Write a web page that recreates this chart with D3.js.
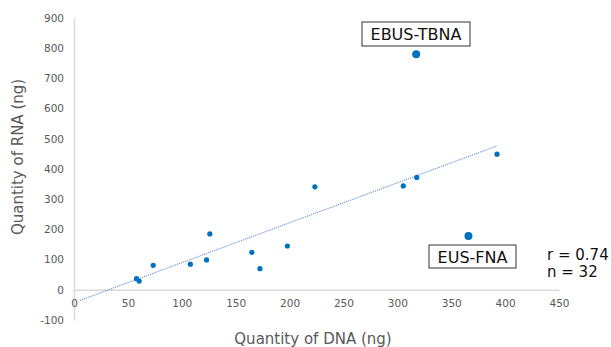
<!DOCTYPE html>
<html>
<head>
<meta charset="utf-8">
<script src="https://cdn.jsdelivr.net/npm/d3@7"></script>
<style>
  body { margin: 0; background: #fff; }
  svg { display: block; }
  .tick text { fill: #595959; font-family: "DejaVu Sans", sans-serif; font-size: 10.5px; }
</style>
</head>
<body>
<svg id="chart"></svg>
<script>
let w = 611;
let h = 347;

// values
let dnaValues = [58, 60.5, 73.5, 108, 126, 123, 165, 172.5, 198, 223.5, 305.5, 318, 392.5];
let rnaValues = [37, 29, 81, 85, 185, 99, 124, 70, 145, 341, 344, 372, 449];
let highlightNames = ["EBUS-TBNA", "EUS-FNA"];
let highlightDna = [317.5, 366];
let highlightRna = [780, 178];
let xTicks = [0, 50, 100, 150, 200, 250, 300, 350, 400, 450];
let yTicks = [-100, 0, 100, 200, 300, 400, 500, 600, 700, 800, 900];
let trendSlope = 1.322;
let trendIntercept = -42.4;
let trendRange = [5.5, 392.5];
let statLines = ["r = 0.74", "n = 32"];

let svg = d3.select("#chart").attr("width", w).attr("height", h);

let xScale = d3.scaleLinear().domain([0, 450]).range([74, 559]);
let yScale = d3.scaleLinear().domain([-100, 900]).range([320, 18]);

let xAxis = d3.axisBottom(xScale).tickValues(xTicks).tickFormat(d => String(d))
  .tickSize(0).tickSizeOuter(0).tickPadding(10);
let yAxis = d3.axisLeft(yScale).tickValues(yTicks).tickFormat(d => String(d))
  .tickSize(0).tickSizeOuter(0).tickPadding(10);

svg.append("g")
  .attr("transform", "translate(" + xScale(0) + ",0)")
  .call(yAxis)
  .call(g => g.select(".domain").attr("stroke", "#d9d9d9").attr("stroke-width", 1.5));

svg.append("g")
  .attr("transform", "translate(0," + yScale(0) + ")")
  .call(xAxis)
  .call(g => g.select(".domain").attr("stroke", "#d9d9d9").attr("stroke-width", 1.5));

// trend line
svg.append("line")
  .attr("x1", xScale(trendRange[0]))
  .attr("y1", yScale(trendSlope * trendRange[0] + trendIntercept))
  .attr("x2", xScale(trendRange[1]))
  .attr("y2", yScale(trendSlope * trendRange[1] + trendIntercept))
  .attr("stroke", "#4a86d4")
  .attr("stroke-width", 1)
  .attr("stroke-dasharray", "1.2,1");

svg.selectAll("circle.pt")
  .data(dnaValues)
  .enter()
  .append("circle")
  .attr("class", "pt")
  .attr("cx", d => xScale(d))
  .attr("cy", (d, i) => yScale(rnaValues[i]))
  .attr("r", 2.6)
  .attr("fill", "#0070c0");

svg.selectAll("circle.big")
  .data(highlightDna)
  .enter()
  .append("circle")
  .attr("class", "big")
  .attr("cx", d => xScale(d))
  .attr("cy", (d, i) => yScale(highlightRna[i]))
  .attr("r", 4)
  .attr("fill", "#0070c0");

// labelled boxes
let boxes = [
  { x: 362, y: 22, w: 108, h: 24 },
  { x: 429, y: 245, w: 87, h: 23 }
];
boxes.forEach((b, i) => {
  svg.append("rect")
    .attr("x", b.x).attr("y", b.y)
    .attr("width", b.w).attr("height", b.h)
    .attr("fill", "#fff")
    .attr("stroke", "#333")
    .attr("stroke-width", 1);
  svg.append("text")
    .attr("x", b.x + b.w / 2)
    .attr("y", b.y + b.h / 2 + 6)
    .attr("text-anchor", "middle")
    .attr("font-family", "DejaVu Sans, sans-serif")
    .attr("font-size", 16)
    .attr("fill", "#111")
    .text(highlightNames[i]);
});

svg.selectAll("text.stat")
  .data(statLines)
  .enter()
  .append("text")
  .attr("class", "stat")
  .attr("x", 547)
  .attr("y", (d, i) => 260 + i * 17)
  .attr("font-family", "DejaVu Sans, sans-serif")
  .attr("font-size", 15)
  .attr("fill", "#111")
  .text(d => d);

svg.append("text")
  .attr("x", 313)
  .attr("y", 344)
  .attr("text-anchor", "middle")
  .attr("font-family", "DejaVu Sans, sans-serif")
  .attr("font-size", 15)
  .attr("fill", "#595959")
  .text("Quantity of DNA (ng)");

svg.append("text")
  .attr("transform", "translate(23,157) rotate(-90)")
  .attr("text-anchor", "middle")
  .attr("font-family", "DejaVu Sans, sans-serif")
  .attr("font-size", 15)
  .attr("fill", "#595959")
  .text("Quantity of RNA (ng)");
</script>
</body>
</html>
